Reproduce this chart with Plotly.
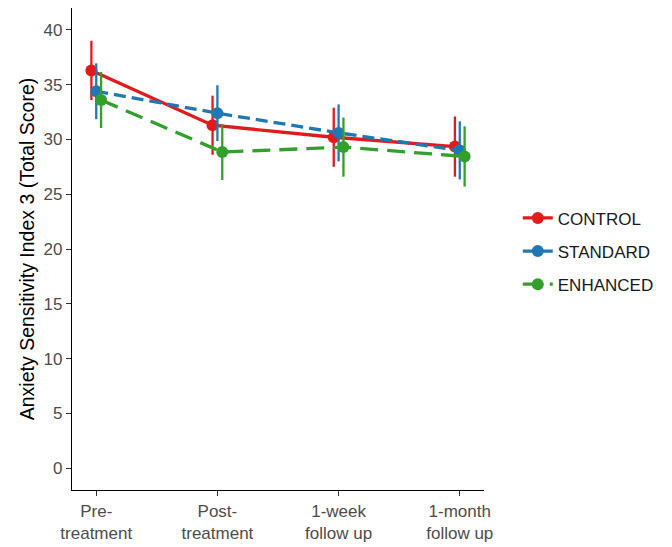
import plotly.graph_objects as go

categories = ["Pre-<br>treatment", "Post-<br>treatment", "1-week<br>follow up", "1-month<br>follow up"]
groups = ["CONTROL", "STANDARD", "ENHANCED"]
control_mean = [36.3, 31.3, 30.2, 29.35]
control_err = [2.7, 2.7, 2.7, 2.75]
standard_mean = [34.4, 32.4, 30.6, 29.0]
standard_err = [2.55, 2.55, 2.6, 2.65]
enhanced_mean = [33.6, 28.85, 29.3, 28.45]
enhanced_err = [2.55, 2.55, 2.7, 2.75]
y_ticks = [0, 5, 10, 15, 20, 25, 30, 35, 40]

means = [control_mean, standard_mean, enhanced_mean]
errs = [control_err, standard_err, enhanced_err]
colors = ["#E31A1C", "#1F78B4", "#33A02C"]
dashes = ["solid", "12px,6px", "18px,9px"]
offsets = [-0.04, 0.0, 0.04]

fig = go.Figure()
for i, g in enumerate(groups):
    xs = [k + 1 + offsets[i] for k in range(len(categories))]
    fig.add_trace(go.Scatter(
        x=xs, y=means[i], name=g, mode="lines+markers",
        line=dict(color=colors[i], width=3.3, dash=dashes[i]),
        marker=dict(color=colors[i], size=12),
        error_y=dict(type="data", array=errs[i], color=colors[i], thickness=2.3, width=0),
        legendgroup=g,
    ))

fig.update_layout(
    width=664, height=539,
    margin=dict(l=64, r=188, t=0, b=57, autoexpand=False),
    plot_bgcolor="white", paper_bgcolor="white",
    font=dict(family="Liberation Sans, Arial, sans-serif", size=17, color="#4D4D4D"),
    legend=dict(x=1.082, y=0.495, xanchor="left", yanchor="middle",
                font=dict(size=17, color="#1A1A1A"), tracegroupgap=8,
                traceorder="grouped", itemwidth=30),
    showlegend=True,
)
fig.update_xaxes(
    range=[0.8, 4.2], tickmode="array", tickvals=[1, 2, 3, 4], ticktext=categories,
    showline=True, linecolor="black", linewidth=1.3, showgrid=False, zeroline=False,
    ticks="outside", ticklen=5, tickcolor="#333333", tickwidth=1.2,
    tickfont=dict(size=17, color="#4D4D4D"), automargin=False,
)
fig.update_yaxes(
    range=[-2, 42], tickmode="array", tickvals=y_ticks,
    showline=True, linecolor="black", linewidth=1.3, showgrid=False, zeroline=False,
    ticks="outside", ticklen=5, tickcolor="#333333", tickwidth=1.2,
    tickfont=dict(size=17, color="#4D4D4D"), automargin=False,
    title=dict(text="Anxiety Sensitivity Index 3 (Total Score)", font=dict(size=19.5, color="black"), standoff=3),
)
fig.write_html("out.html")
